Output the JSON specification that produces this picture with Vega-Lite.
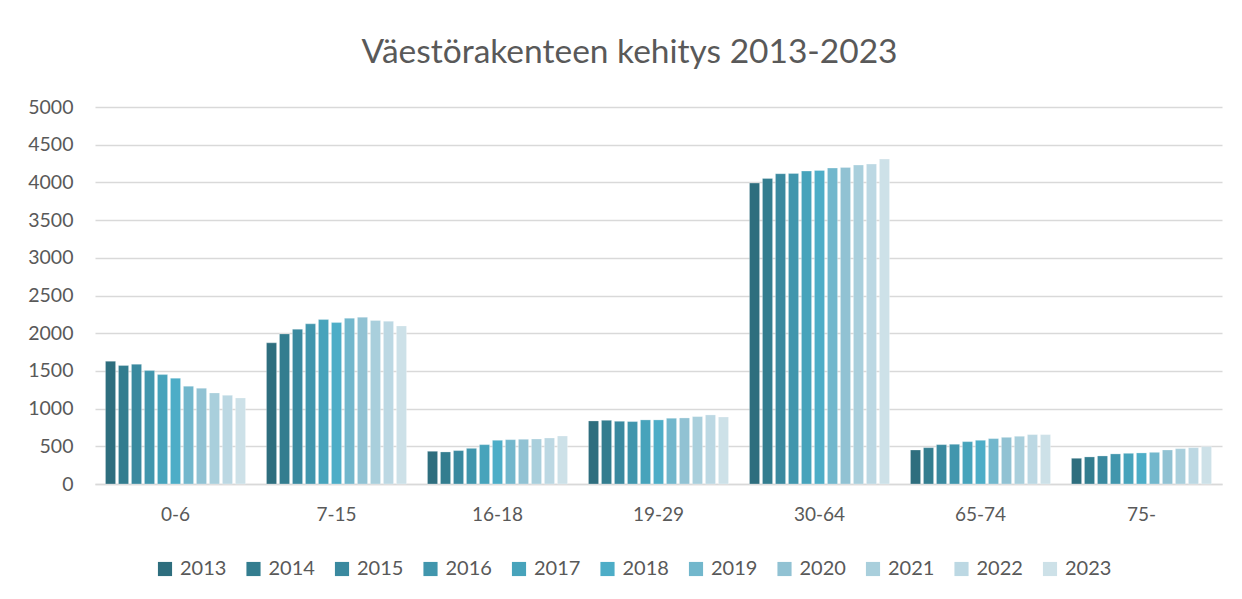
{
  "$schema": "https://vega.github.io/schema/vega-lite/v6.json",
  "width": 1127,
  "height": 377,
  "autosize": {"type": "none"},
  "padding": {"left": 95, "top": 107, "right": 20, "bottom": 115},
  "background": "white",
  "title": {
    "text": "Väestörakenteen kehitys 2013-2023",
    "font": "Lato",
    "fontSize": 33.5,
    "fontWeight": "normal",
    "color": "#595959",
    "anchor": "middle",
    "dx": -29,
    "offset": 27
  },
  "data": {
    "values": [
      {"ika": "0-6", "vuosi": "2013", "v": 1628},
      {"ika": "0-6", "vuosi": "2014", "v": 1571},
      {"ika": "0-6", "vuosi": "2015", "v": 1588},
      {"ika": "0-6", "vuosi": "2016", "v": 1504},
      {"ika": "0-6", "vuosi": "2017", "v": 1451},
      {"ika": "0-6", "vuosi": "2018", "v": 1403},
      {"ika": "0-6", "vuosi": "2019", "v": 1297},
      {"ika": "0-6", "vuosi": "2020", "v": 1270},
      {"ika": "0-6", "vuosi": "2021", "v": 1208},
      {"ika": "0-6", "vuosi": "2022", "v": 1177},
      {"ika": "0-6", "vuosi": "2023", "v": 1142},
      {"ika": "7-15", "vuosi": "2013", "v": 1872},
      {"ika": "7-15", "vuosi": "2014", "v": 1991},
      {"ika": "7-15", "vuosi": "2015", "v": 2053},
      {"ika": "7-15", "vuosi": "2016", "v": 2124},
      {"ika": "7-15", "vuosi": "2017", "v": 2181},
      {"ika": "7-15", "vuosi": "2018", "v": 2141},
      {"ika": "7-15", "vuosi": "2019", "v": 2199},
      {"ika": "7-15", "vuosi": "2020", "v": 2212},
      {"ika": "7-15", "vuosi": "2021", "v": 2168},
      {"ika": "7-15", "vuosi": "2022", "v": 2159},
      {"ika": "7-15", "vuosi": "2023", "v": 2097},
      {"ika": "16-18", "vuosi": "2013", "v": 434},
      {"ika": "16-18", "vuosi": "2014", "v": 425},
      {"ika": "16-18", "vuosi": "2015", "v": 443},
      {"ika": "16-18", "vuosi": "2016", "v": 473},
      {"ika": "16-18", "vuosi": "2017", "v": 522},
      {"ika": "16-18", "vuosi": "2018", "v": 580},
      {"ika": "16-18", "vuosi": "2019", "v": 588},
      {"ika": "16-18", "vuosi": "2020", "v": 593},
      {"ika": "16-18", "vuosi": "2021", "v": 597},
      {"ika": "16-18", "vuosi": "2022", "v": 610},
      {"ika": "16-18", "vuosi": "2023", "v": 637},
      {"ika": "19-29", "vuosi": "2013", "v": 836},
      {"ika": "19-29", "vuosi": "2014", "v": 845},
      {"ika": "19-29", "vuosi": "2015", "v": 832},
      {"ika": "19-29", "vuosi": "2016", "v": 828},
      {"ika": "19-29", "vuosi": "2017", "v": 850},
      {"ika": "19-29", "vuosi": "2018", "v": 850},
      {"ika": "19-29", "vuosi": "2019", "v": 872},
      {"ika": "19-29", "vuosi": "2020", "v": 876},
      {"ika": "19-29", "vuosi": "2021", "v": 894},
      {"ika": "19-29", "vuosi": "2022", "v": 916},
      {"ika": "19-29", "vuosi": "2023", "v": 889},
      {"ika": "30-64", "vuosi": "2013", "v": 3991},
      {"ika": "30-64", "vuosi": "2014", "v": 4053},
      {"ika": "30-64", "vuosi": "2015", "v": 4115},
      {"ika": "30-64", "vuosi": "2016", "v": 4119},
      {"ika": "30-64", "vuosi": "2017", "v": 4150},
      {"ika": "30-64", "vuosi": "2018", "v": 4159},
      {"ika": "30-64", "vuosi": "2019", "v": 4190},
      {"ika": "30-64", "vuosi": "2020", "v": 4199},
      {"ika": "30-64", "vuosi": "2021", "v": 4230},
      {"ika": "30-64", "vuosi": "2022", "v": 4243},
      {"ika": "30-64", "vuosi": "2023", "v": 4309},
      {"ika": "65-74", "vuosi": "2013", "v": 451},
      {"ika": "65-74", "vuosi": "2014", "v": 482},
      {"ika": "65-74", "vuosi": "2015", "v": 522},
      {"ika": "65-74", "vuosi": "2016", "v": 527},
      {"ika": "65-74", "vuosi": "2017", "v": 562},
      {"ika": "65-74", "vuosi": "2018", "v": 580},
      {"ika": "65-74", "vuosi": "2019", "v": 602},
      {"ika": "65-74", "vuosi": "2020", "v": 619},
      {"ika": "65-74", "vuosi": "2021", "v": 633},
      {"ika": "65-74", "vuosi": "2022", "v": 655},
      {"ika": "65-74", "vuosi": "2023", "v": 655},
      {"ika": "75-", "vuosi": "2013", "v": 341},
      {"ika": "75-", "vuosi": "2014", "v": 359},
      {"ika": "75-", "vuosi": "2015", "v": 372},
      {"ika": "75-", "vuosi": "2016", "v": 399},
      {"ika": "75-", "vuosi": "2017", "v": 407},
      {"ika": "75-", "vuosi": "2018", "v": 412},
      {"ika": "75-", "vuosi": "2019", "v": 420},
      {"ika": "75-", "vuosi": "2020", "v": 451},
      {"ika": "75-", "vuosi": "2021", "v": 469},
      {"ika": "75-", "vuosi": "2022", "v": 482},
      {"ika": "75-", "vuosi": "2023", "v": 496}
    ]
  },
  "mark": {"type": "bar", "stroke": "#ffffff", "strokeOpacity": 0.35, "strokeWidth": 0.8},
  "encoding": {
    "x": {
      "field": "ika",
      "type": "nominal",
      "sort": ["0-6", "7-15", "16-18", "19-29", "30-64", "65-74", "75-"],
      "scale": {"paddingInner": 0.13, "paddingOuter": 0.065},
      "axis": {
        "title": null,
        "labelAngle": 0,
        "labelFont": "Lato",
        "labelFontSize": 19,
        "labelColor": "#595959",
        "labelPadding": 21,
        "ticks": false,
        "domainColor": "#D9D9D9",
        "domainWidth": 1.5,
        "grid": false
      }
    },
    "xOffset": {
      "field": "vuosi",
      "type": "nominal",
      "scale": {"paddingInner": 0.22, "paddingOuter": 0}
    },
    "y": {
      "field": "v",
      "type": "quantitative",
      "scale": {"domain": [0, 5000], "nice": false},
      "axis": {
        "title": null,
        "format": "d",
        "values": [0, 500, 1000, 1500, 2000, 2500, 3000, 3500, 4000, 4500, 5000],
        "labelFont": "Lato",
        "labelFontSize": 19.5,
        "labelColor": "#595959",
        "labelPadding": 22,
        "ticks": false,
        "domain": false,
        "gridColor": "#D9D9D9",
        "gridWidth": 1.5
      }
    },
    "color": {
      "field": "vuosi",
      "type": "nominal",
      "scale": {
        "domain": ["2013", "2014", "2015", "2016", "2017", "2018", "2019", "2020", "2021", "2022", "2023"],
        "range": ["#2E6E7E", "#337D8F", "#3A899F", "#4196AD", "#47A3BB", "#4DADC7", "#72B7CC", "#91C2D3", "#A9CFDC", "#BCD8E3", "#CDE1E8"]
      },
      "legend": {
        "title": null,
        "orient": "none",
        "legendX": 60,
        "legendY": 452,
        "direction": "horizontal",
        "columns": 11,
        "symbolType": "square",
        "symbolSize": 200,
        "symbolStrokeWidth": 0,
        "labelFont": "Lato",
        "labelFontSize": 20,
        "labelColor": "#595959",
        "labelOffset": 5,
        "columnPadding": 16.5
      }
    }
  },
  "config": {
    "view": {"stroke": null}
  }
}
